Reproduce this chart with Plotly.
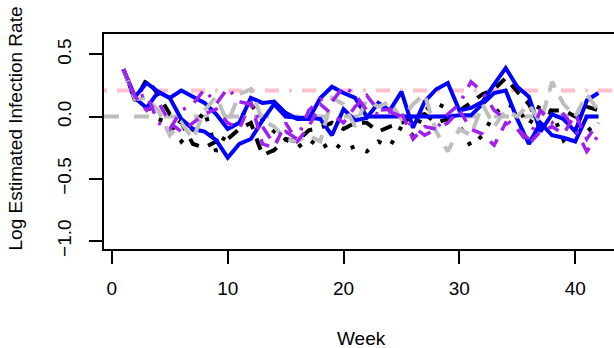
import plotly.graph_objects as go

# Weekly log estimated infection rates for each model run
weeks = list(range(1, 43))

blue_a = [0.38, 0.16, 0.27, 0.20, 0.15, -0.02, -0.10, -0.12, -0.19, -0.33,
          -0.22, -0.18, -0.03, 0.10, 0.00, -0.01, -0.01, -0.02, -0.15, 0.06,
          -0.03, -0.01, 0.11, 0.05, 0.20, -0.09, 0.12, 0.22, 0.27, 0.05,
          0.07, 0.12, 0.26, 0.39, 0.24, 0.16, -0.12, 0.02, -0.02, -0.12,
          0.13, 0.19]
blue_b = [0.38, 0.15, 0.07, 0.20, 0.15, 0.21, 0.16, 0.11, 0.02, -0.10,
          -0.05, 0.15, 0.11, 0.12, 0.03, -0.02, -0.02, 0.15, 0.24, 0.19,
          0.15, 0.00, 0.00, 0.00, 0.00, 0.00, 0.00, 0.00, 0.00, 0.01,
          0.01, 0.10, 0.19, 0.21, -0.02, -0.22, -0.05, -0.15, -0.17, -0.20,
          0.00, 0.00]
black_dash = [0.38, 0.13, 0.30, 0.18, 0.02, -0.05, -0.22, -0.25, -0.20, -0.18,
              -0.10, -0.05, -0.31, -0.27, -0.18, -0.20, -0.11, -0.09, -0.05, -0.10,
              -0.05, -0.05, -0.12, -0.08, -0.05, 0.00, 0.02, -0.05, -0.02, 0.05,
              0.12, 0.18, 0.22, 0.31, 0.20, 0.10, -0.08, 0.05, 0.05, 0.00,
              0.08, 0.05]
black_dot = [0.38, 0.14, 0.10, -0.02, -0.05, -0.20, -0.10, 0.05, -0.28, -0.12,
             -0.02, 0.10, -0.03, -0.12, -0.18, -0.25, -0.18, -0.26, -0.20, -0.27,
             -0.24, -0.28, -0.20, -0.24, -0.08, -0.15, 0.05, 0.11, 0.06, -0.07,
             -0.24, -0.15, 0.02, 0.10, 0.07, -0.07, 0.10, 0.04, -0.19, -0.10,
             -0.12, -0.05]
gray_dash = [0.38, 0.14, 0.15, 0.05, -0.15, -0.05, -0.18, 0.05, 0.16, -0.05,
             0.18, 0.22, -0.03, -0.08, -0.18, -0.20, -0.15, -0.20, 0.15, 0.10,
             -0.08, 0.14, 0.08, 0.12, -0.02, 0.10, 0.18, -0.12, -0.28, -0.10,
             -0.15, 0.10, -0.08, 0.05, 0.00, 0.10, -0.05, 0.28, 0.10, 0.00,
             0.18, 0.05]
purple_dotdash = [0.38, 0.15, 0.18, -0.05, -0.10, 0.05, 0.10, 0.22, 0.10, 0.23,
                  0.12, 0.10, -0.08, -0.22, -0.12, -0.18, 0.05, 0.14, 0.12, 0.24,
                  0.18, 0.05, 0.02, 0.04, 0.00, -0.08, -0.15, -0.10, 0.02, 0.10,
                  0.28, 0.20, 0.05, -0.02, -0.10, -0.18, 0.05, -0.05, 0.02, -0.10,
                  -0.28, -0.15]
purple_dash = [0.38, 0.16, 0.05, 0.12, -0.05, -0.12, -0.05, 0.02, 0.06, -0.05,
               -0.10, 0.12, -0.22, -0.25, -0.05, -0.20, -0.08, 0.10, 0.02, -0.05,
               0.08, 0.17, 0.05, 0.06, 0.03, -0.18, -0.08, -0.10, -0.05, 0.05,
               -0.10, -0.14, -0.23, -0.05, -0.10, -0.22, -0.12, -0.08, -0.14, 0.02,
               -0.18, -0.05]

# Reference levels
ref_zero = 0.0
ref_upper = 0.21

x_ticks = [0, 10, 20, 30, 40]
y_ticks = [-1.0, -0.5, 0.0, 0.5]
y_tick_text = ["\u22121.0", "\u22120.5", "0.0", "0.5"]

FONT = "Liberation Sans, Arial, Helvetica, sans-serif"

fig = go.Figure()

# Horizontal reference lines across the full week span
x_span = [-0.68, 43.4]
fig.add_trace(go.Scatter(x=x_span, y=[ref_upper, ref_upper], mode="lines",
                         line=dict(color="#FFC0CB", width=4, dash="3px,10px,14px,10px"),
                         hoverinfo="skip"))
fig.add_trace(go.Scatter(x=x_span, y=[ref_zero, ref_zero], mode="lines",
                         line=dict(color="#BEBEBE", width=4, dash="15px,15px"),
                         hoverinfo="skip"))

series = [
    (black_dot, dict(color="black", width=4, dash="4px,12px")),
    (black_dash, dict(color="black", width=4, dash="12px,10px")),
    (blue_a, dict(color="#0000FF", width=4)),
    (blue_b, dict(color="#0000FF", width=4)),
    (gray_dash, dict(color="#BEBEBE", width=4, dash="16px,10px")),
    (purple_dash, dict(color="#A020F0", width=3.5, dash="12px,10px")),
    (purple_dotdash, dict(color="#A020F0", width=3.5, dash="3px,10px,14px,10px")),
]
for vals, style in series:
    fig.add_trace(go.Scatter(x=weeks, y=vals, mode="lines", line=style))

fig.update_layout(
    width=614, height=348,
    margin=dict(l=104, r=0, t=34, b=99),
    paper_bgcolor="white", plot_bgcolor="white",
    showlegend=False,
    font=dict(family=FONT, size=19, color="black"),
    xaxis=dict(range=[-0.68, 43.35], showgrid=False, zeroline=False,
               showline=True, mirror=True, linecolor="black", linewidth=2,
               tickvals=x_ticks, ticks="outside", ticklen=13, tickwidth=1.5,
               tickcolor="black", ticklabelstandoff=8,
               tickfont=dict(family=FONT, size=19)),
    yaxis=dict(range=[-1.064, 0.664], showgrid=False, zeroline=False,
               showline=True, mirror=False, linecolor="black", linewidth=2,
               tickvals=y_ticks, ticktext=y_tick_text, tickangle=-90,
               ticks="outside", ticklen=13, tickwidth=1.5, tickcolor="black",
               ticklabelstandoff=10, tickfont=dict(family=FONT, size=19)),
    annotations=[
        dict(text="Week", xref="paper", yref="paper", x=0.504, y=-0.414,
             xanchor="center", yanchor="middle", showarrow=False,
             font=dict(family=FONT, size=19)),
        dict(text="Log Estimated Infection Rate", xref="paper", yref="paper",
             x=-0.1745, y=0.5605, textangle=-90, xanchor="center",
             yanchor="middle", showarrow=False, font=dict(family=FONT, size=19)),
    ],
)

fig.write_html("out.html")
